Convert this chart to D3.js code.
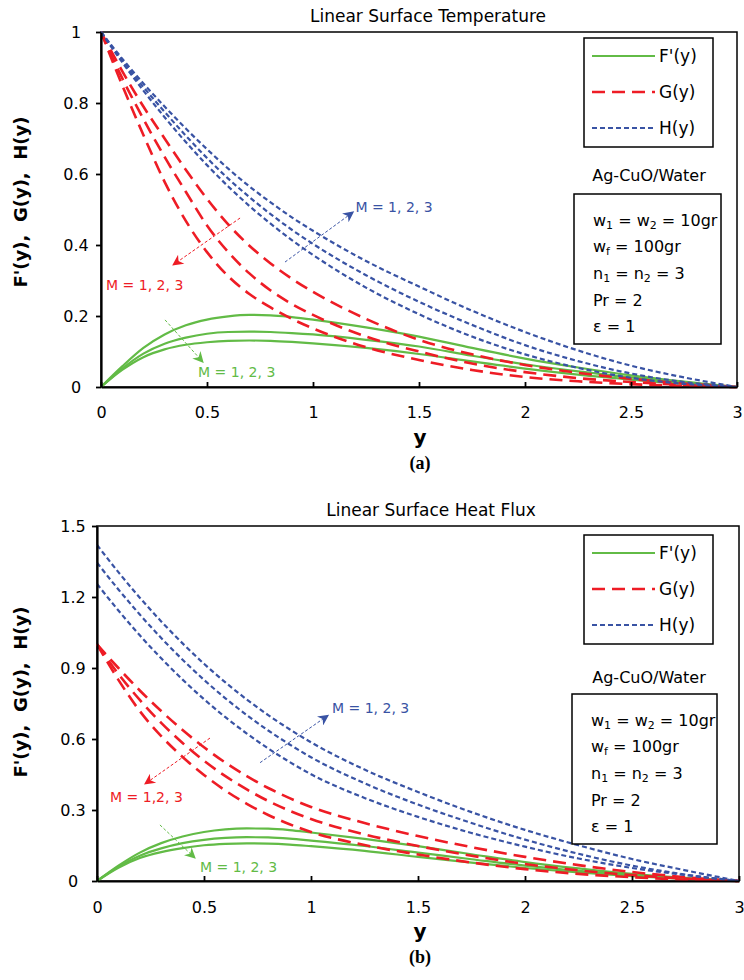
<!DOCTYPE html>
<meta charset="utf-8">
<style>
  body { margin: 0; background: #fff; }
  svg text { font-family: "DejaVu Sans", sans-serif; fill: #000; }
</style>
<body>
<script src="https://cdn.jsdelivr.net/npm/d3@7/dist/d3.min.js"></script>
<script>

// similarity variable y (x axis)
var yGrid = [0, 0.1, 0.2, 0.3, 0.4, 0.5, 0.6, 0.7, 0.8, 0.9, 1.0, 1.25, 1.5, 1.75, 2.0, 2.25, 2.5, 2.75, 3.0];
var xTicks = [0, 0.5, 1, 1.5, 2, 2.5, 3];
var yTicksA = [0, 0.2, 0.4, 0.6, 0.8, 1];
var yTicksB = [0, 0.3, 0.6, 0.9, 1.2, 1.5];

// (a) Linear Surface Temperature, curves for M = 1, 2, 3
var fTempM1 = [0, 0.058, 0.110, 0.148, 0.174, 0.190, 0.199, 0.203, 0.202, 0.197, 0.190, 0.168, 0.142, 0.110, 0.080, 0.055, 0.033, 0.015, 0];
var fTempM2 = [0, 0.052, 0.094, 0.122, 0.139, 0.150, 0.155, 0.156, 0.155, 0.152, 0.148, 0.133, 0.114, 0.088, 0.064, 0.044, 0.027, 0.012, 0];
var fTempM3 = [0, 0.048, 0.084, 0.106, 0.119, 0.126, 0.130, 0.131, 0.130, 0.127, 0.123, 0.110, 0.093, 0.072, 0.052, 0.035, 0.021, 0.009, 0];
var gTempM1 = [1, 0.890, 0.790, 0.700, 0.612, 0.530, 0.458, 0.398, 0.348, 0.305, 0.268, 0.192, 0.133, 0.092, 0.062, 0.040, 0.023, 0.010, 0];
var gTempM2 = [1, 0.870, 0.755, 0.648, 0.550, 0.455, 0.380, 0.320, 0.272, 0.234, 0.203, 0.142, 0.100, 0.066, 0.042, 0.025, 0.014, 0.006, 0];
var gTempM3 = [1, 0.850, 0.710, 0.578, 0.468, 0.380, 0.312, 0.262, 0.224, 0.192, 0.165, 0.112, 0.076, 0.048, 0.028, 0.016, 0.008, 0.003, 0];
var hTempM1 = [1, 0.915, 0.835, 0.760, 0.690, 0.625, 0.565, 0.510, 0.460, 0.414, 0.372, 0.280, 0.205, 0.142, 0.092, 0.054, 0.026, 0.009, 0];
var hTempM2 = [1, 0.920, 0.845, 0.775, 0.708, 0.645, 0.587, 0.535, 0.487, 0.443, 0.403, 0.315, 0.240, 0.175, 0.118, 0.073, 0.038, 0.014, 0];
var hTempM3 = [1, 0.925, 0.855, 0.790, 0.728, 0.670, 0.615, 0.565, 0.520, 0.478, 0.440, 0.355, 0.283, 0.215, 0.155, 0.103, 0.060, 0.027, 0];

// (b) Linear Surface Heat Flux, curves for M = 1, 2, 3
var fFluxM1 = [0, 0.065, 0.120, 0.160, 0.188, 0.207, 0.218, 0.222, 0.221, 0.215, 0.205, 0.178, 0.147, 0.113, 0.080, 0.053, 0.030, 0.013, 0];
var fFluxM2 = [0, 0.060, 0.107, 0.138, 0.160, 0.174, 0.182, 0.185, 0.184, 0.179, 0.171, 0.148, 0.120, 0.092, 0.065, 0.043, 0.025, 0.011, 0];
var fFluxM3 = [0, 0.056, 0.097, 0.122, 0.139, 0.151, 0.157, 0.159, 0.158, 0.154, 0.147, 0.127, 0.102, 0.078, 0.055, 0.036, 0.021, 0.009, 0];
var gFluxM1 = [1, 0.900, 0.805, 0.718, 0.638, 0.565, 0.500, 0.443, 0.393, 0.350, 0.313, 0.245, 0.190, 0.143, 0.102, 0.067, 0.038, 0.016, 0];
var gFluxM2 = [1, 0.875, 0.765, 0.668, 0.583, 0.508, 0.443, 0.387, 0.338, 0.297, 0.262, 0.197, 0.148, 0.107, 0.072, 0.045, 0.025, 0.010, 0];
var gFluxM3 = [1, 0.850, 0.718, 0.612, 0.524, 0.448, 0.382, 0.326, 0.279, 0.240, 0.207, 0.152, 0.112, 0.078, 0.050, 0.030, 0.016, 0.006, 0];
var hFluxM1 = [1.255, 1.143, 1.038, 0.941, 0.851, 0.768, 0.692, 0.623, 0.560, 0.503, 0.451, 0.351, 0.271, 0.203, 0.145, 0.095, 0.055, 0.025, 0];
var hFluxM2 = [1.345, 1.232, 1.126, 1.027, 0.935, 0.850, 0.772, 0.701, 0.636, 0.577, 0.523, 0.413, 0.323, 0.245, 0.175, 0.115, 0.065, 0.027, 0];
var hFluxM3 = [1.420, 1.305, 1.197, 1.097, 1.004, 0.918, 0.839, 0.767, 0.701, 0.641, 0.586, 0.471, 0.376, 0.291, 0.216, 0.151, 0.093, 0.045, 0];

var legendNames = ["F'(y)", "G(y)", "H(y)"];
var paramLines = [
  [["w", 0], ["1", 1], [" = w", 0], ["2", 1], [" = 10gr", 0]],
  [["w", 0], ["f", 1], [" = 100gr", 0]],
  [["n", 0], ["1", 1], [" = n", 0], ["2", 1], [" = 3", 0]],
  [["Pr = 2", 0]],
  [["\u03b5 = 1", 0]]
];

var green = "#62bb46", red = "#ee1c25", blue = "#3953a4";
var styles = [
  {color: green, width: 2.2, dash: null},
  {color: red, width: 2.6, dash: "13,7"},
  {color: blue, width: 2.2, dash: "5,3"}
];

var svg = d3.select("body").append("svg")
  .attr("width", 744)
  .attr("height", 980);

var defs = svg.append("defs");
[["g", green], ["r", red], ["b", blue]].forEach(function(m) {
  defs.append("marker")
    .attr("id", "arrow-" + m[0])
    .attr("viewBox", "0 0 10 10")
    .attr("refX", 9).attr("refY", 5)
    .attr("markerWidth", 12).attr("markerHeight", 11)
    .attr("markerUnits", "userSpaceOnUse")
    .attr("orient", "auto")
    .append("path")
    .attr("d", "M0,0 L10,5 L0,10 L3,5 Z")
    .attr("fill", m[1]);
});

function drawPanel(p) {
  var x = d3.scaleLinear().domain([0, 3]).range([p.left, p.right]);
  var y = d3.scaleLinear().domain([0, p.yMax]).range([p.bottom, p.top]);
  var g = svg.append("g");

  // title
  g.append("text")
    .attr("x", p.titleX).attr("y", p.top - 16)
    .attr("text-anchor", "middle")
    .attr("dy", "0.35em")
    .style("font-size", "17px")
    .text(p.title);

  // frame
  g.append("rect")
    .attr("x", p.left).attr("y", p.top)
    .attr("width", p.right - p.left).attr("height", p.bottom - p.top)
    .attr("fill", "none").attr("stroke", "#000").attr("stroke-width", 1.5);

  // curves
  var line = d3.line()
    .x(function(d, i) { return x(yGrid[i]); })
    .y(function(d) { return y(d); })
    .curve(d3.curveMonotoneX);

  p.series.forEach(function(group, k) {
    var st = styles[k];
    group.forEach(function(vals) {
      g.append("path")
        .datum(vals)
        .attr("d", line)
        .attr("fill", "none")
        .attr("stroke", st.color)
        .attr("stroke-width", st.width)
        .attr("stroke-dasharray", st.dash);
    });
  });

  // axes
  var xa = g.append("g")
    .attr("transform", "translate(0," + p.bottom + ")")
    .call(d3.axisBottom(x).tickValues(xTicks).tickFormat(function(d) { return d; })
      .tickSizeInner(-5).tickSizeOuter(0).tickPadding(p.xPad));
  var ya = g.append("g")
    .attr("transform", "translate(" + p.left + ",0)")
    .call(d3.axisLeft(y).tickValues(p.yTicks).tickFormat(function(d) { return d; })
      .tickSizeInner(5).tickSizeOuter(0));
  [xa, ya].forEach(function(a) {
    a.attr("font-family", null).attr("font-size", null);
    a.select(".domain").attr("stroke-width", 2.2);
    a.selectAll(".tick line").attr("stroke-width", 1.8);
    a.selectAll("text").style("font-size", "16px");
  });
  ya.selectAll("text").attr("text-anchor", "middle").attr("x", -p.yLabelOff);

  // axis titles
  g.append("text")
    .attr("transform", "translate(" + 21 + "," + p.yLabelY + ") rotate(-90)")
    .attr("text-anchor", "middle")
    .attr("dy", "0.35em")
    .style("font-size", "18px").style("font-weight", "bold")
    .style("white-space", "pre")
    .text("F'(y),  G(y),  H(y)");
  g.append("text")
    .attr("x", 420).attr("y", p.bottom + 50)
    .attr("text-anchor", "middle")
    .attr("dy", "0.35em")
    .style("font-size", "20px").style("font-weight", "bold")
    .text("y");
  g.append("text")
    .attr("x", 420).attr("y", p.bottom + 76)
    .attr("text-anchor", "middle")
    .attr("dy", "0.35em")
    .style("font-family", "'Liberation Serif', serif")
    .style("font-size", "18px").style("font-weight", "bold")
    .text(p.panel);

  // legend
  var lg = g.append("g").attr("transform", "translate(" + p.legend[0] + "," + p.legend[1] + ")");
  lg.append("rect")
    .attr("width", 129).attr("height", 109)
    .attr("fill", "#fff").attr("stroke", "#000").attr("stroke-width", 1.5);
  legendNames.forEach(function(name, k) {
    var ly = 18 + k * 36;
    lg.append("line")
      .attr("x1", 8).attr("x2", 71).attr("y1", ly).attr("y2", ly)
      .attr("stroke", styles[k].color)
      .attr("stroke-width", styles[k].width)
      .attr("stroke-dasharray", styles[k].dash);
    lg.append("text")
      .attr("x", 75).attr("y", ly).attr("dy", "0.35em")
      .style("font-size", "17px")
      .text(name);
  });

  // fluid name and parameter box
  g.append("text")
    .attr("x", p.legend[0] + 65).attr("y", p.fluidY)
    .attr("text-anchor", "middle").attr("dy", "0.35em")
    .style("font-size", "16px")
    .text("Ag-CuO/Water");
  var pb = g.append("g").attr("transform", "translate(" + p.params[0] + "," + p.params[1] + ")");
  pb.append("rect")
    .attr("width", p.params[2]).attr("height", 150)
    .attr("fill", "#fff").attr("stroke", "#000").attr("stroke-width", 1.5);
  paramLines.forEach(function(parts, k) {
    var t = pb.append("text")
      .attr("x", 19).attr("y", 26 + k * 26.7).attr("dy", "0.35em")
      .style("font-size", "16px");
    parts.forEach(function(part) {
      var s = t.append("tspan").text(part[0]);
      if (part[1]) s.style("font-size", "11px").attr("baseline-shift", "-30%");
    });
  });

  // M = 1, 2, 3 annotations
  p.notes.forEach(function(n) {
    g.append("line")
      .attr("x1", x(n.from[0])).attr("y1", y(n.from[1]))
      .attr("x2", x(n.to[0])).attr("y2", y(n.to[1]))
      .attr("stroke", n.color).attr("stroke-width", 1)
      .attr("stroke-dasharray", "3,2")
      .attr("marker-end", "url(#arrow-" + n.marker + ")");
    g.append("text")
      .attr("x", x(n.text[0])).attr("y", y(n.text[1])).attr("dy", "0.35em")
      .style("fill", n.color)
      .style("font-size", "14px")
      .text(n.label);
  });
}

drawPanel({
  title: "Linear Surface Temperature", titleX: 428, panel: "(a)",
  left: 101, right: 737, top: 32, bottom: 387, yMax: 1, yTicks: yTicksA,
  xPad: 20, yLabelY: 202, yLabelOff: 25,
  series: [[fTempM1, fTempM2, fTempM3], [gTempM1, gTempM2, gTempM3], [hTempM1, hTempM2, hTempM3]],
  legend: [584, 38], fluidY: 175, params: [574, 194, 147],
  notes: [
    {from: [0.656, 0.476], to: [0.34, 0.344], text: [0.024, 0.287], color: red, marker: "r", label: "M = 1, 2, 3"},
    {from: [0.868, 0.352], to: [1.19, 0.493], text: [1.2, 0.507], color: blue, marker: "b", label: "M = 1, 2, 3"},
    {from: [0.302, 0.189], to: [0.481, 0.07], text: [0.458, 0.042], color: green, marker: "g", label: "M = 1, 2, 3"}
  ]
});

drawPanel({
  title: "Linear Surface Heat Flux", titleX: 431, panel: "(b)",
  left: 97, right: 739, top: 526, bottom: 881, yMax: 1.5, yTicks: yTicksB,
  xPad: 21, yLabelY: 692, yLabelOff: 24,
  series: [[fFluxM1, fFluxM2, fFluxM3], [gFluxM1, gFluxM2, gFluxM3], [hFluxM1, hFluxM2, hFluxM3]],
  legend: [584, 535], fluidY: 677, params: [572, 694, 145],
  notes: [
    {from: [0.528, 0.604], to: [0.224, 0.41], text: [0.061, 0.355], color: red, marker: "r", label: "M = 1,2, 3"},
    {from: [0.762, 0.5], to: [1.08, 0.70], text: [1.098, 0.731], color: blue, marker: "b", label: "M = 1, 2, 3"},
    {from: [0.294, 0.237], to: [0.458, 0.097], text: [0.481, 0.059], color: green, marker: "g", label: "M = 1, 2, 3"}
  ]
});

</script>
</body>
